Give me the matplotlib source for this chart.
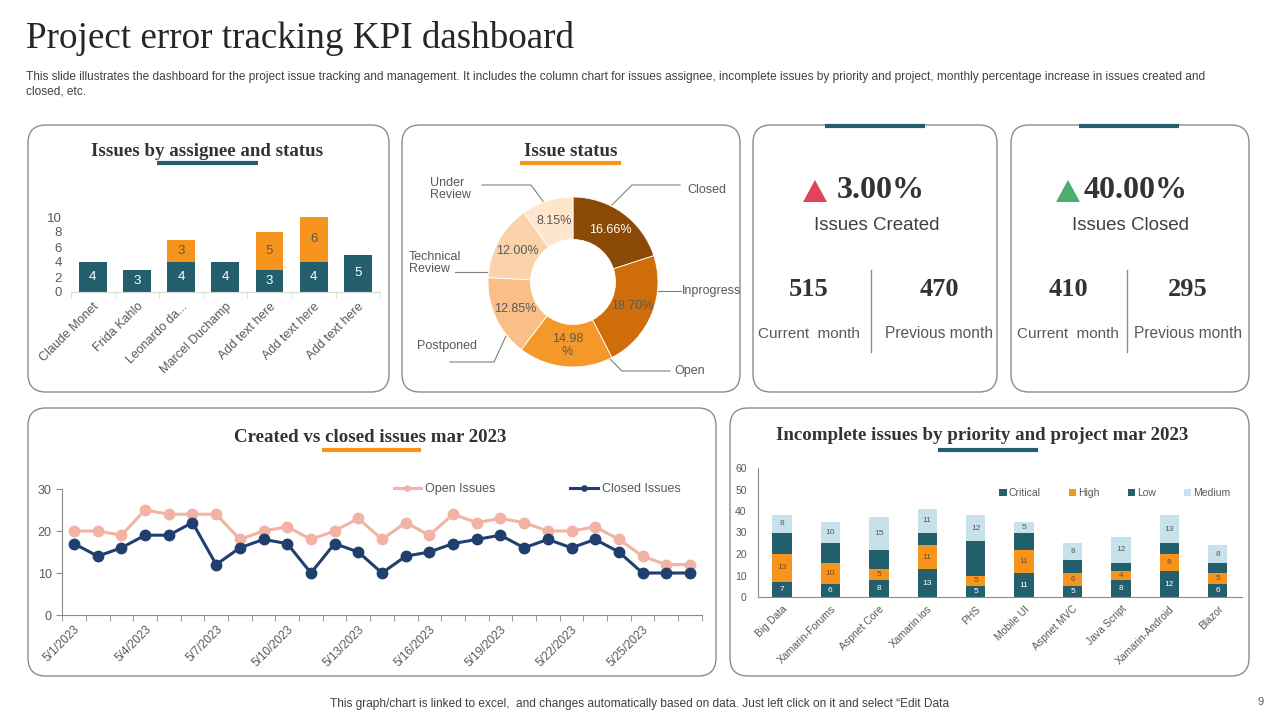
import matplotlib
matplotlib.use("Agg")
import matplotlib.pyplot as plt
from matplotlib.patches import FancyBboxPatch, Polygon
import numpy as np

# ---------------- data ----------------
assignees = ["Claude Monet", "Frida Kahlo", "Leonardo da...", "Marcel Duchamp",
             "Add text here", "Add text here", "Add text here"]
assignee_closed = [4, 3, 4, 4, 3, 4, 5]
assignee_open = [0, 0, 3, 0, 5, 6, 0]

status_labels = ["Closed", "Inprogress", "Open", "Postponed", "Technical\nReview", "Under\nReview"]
status_values = [16.66, 18.70, 14.98, 12.85, 12.00, 8.15]
status_text = ["16.66%", "18.70%", "14.98\n%", "12.85%", "12.00%", "8.15%"]

created_pct = "3.00%"
created_current = 515
created_previous = 470
closed_pct = "40.00%"
closed_current = 410
closed_previous = 295

dates = [f"5/{d}/2023" for d in range(1, 28)]
open_issues = [20, 20, 19, 25, 24, 24, 24, 18, 20, 21, 18, 20, 23, 18, 22, 19, 24, 22, 23, 22,
               20, 20, 21, 18, 14, 12, 12]
closed_issues = [17, 14, 16, 19, 19, 22, 12, 16, 18, 17, 10, 17, 15, 10, 14, 15, 17, 18, 19, 16,
                 18, 16, 18, 15, 10, 10, 10]

projects = ["Big Data", "Xamarin-Forums", "Aspnet Core", "Xamarin.ios", "PHS", "Mobile UI",
            "Aspnet MVC", "Java Script", "Xamarin-Android", "Blazor"]
critical = [7, 6, 8, 13, 5, 11, 5, 8, 12, 6]
high = [13, 10, 5, 11, 5, 11, 6, 4, 8, 5]
low = [10, 9, 9, 6, 16, 8, 6, 4, 5, 5]
medium = [8, 10, 15, 11, 12, 5, 8, 12, 13, 8]

# ---------------- style ----------------
TEAL = "#245f6e"
ORANGE = "#f7941d"
GTXT = "#595959"
DARK = "#333333"
BORDER = "#8c8c8c"
SERIF = "Liberation Serif"
SANS = "Liberation Sans"
DONUT_COLORS = ["#8a4a05", "#d06d0b", "#f5982a", "#f9bf86", "#fbd3aa", "#fde6cc"]
OPEN_C = "#f2b3a4"
CLOSED_C = "#213f6e"
MED_C = "#c8e2eb"

plt.rcParams["font.family"] = [SANS, "DejaVu Sans"]

W, H = 1280, 720
fig = plt.figure(figsize=(12.8, 7.2), dpi=100)
fig.patch.set_facecolor("white")

bg = fig.add_axes([0, 0, 1, 1])
bg.set_xlim(0, W)
bg.set_ylim(H, 0)
bg.axis("off")


def px_axes(x0, y0, x1, y1):
    a = fig.add_axes([x0 / W, 1 - y1 / H, (x1 - x0) / W, (y1 - y0) / H])
    a.set_facecolor("none")
    return a


renderer = fig.canvas.get_renderer()


def fit(t, width):
    ext = t.get_window_extent(renderer=renderer)
    t.set_fontsize(t.get_fontsize() * width / ext.width)


def panel(x0, y0, x1, y1):
    bg.add_patch(FancyBboxPatch((x0, y0), x1 - x0, y1 - y0,
                                boxstyle="round,pad=0,rounding_size=18",
                                fc="white", ec=BORDER, lw=1.0, zorder=1))


def bar(x0, x1, y, color):
    bg.plot([x0, x1], [y, y], color=color, lw=3, solid_capstyle="butt", zorder=3)


# ---------------- header / footer ----------------
t = bg.text(26, 38, "Project error tracking KPI dashboard", fontsize=26, family=SERIF,
            color="#262626", va="center", ha="left")
fit(t, 548)
t = bg.text(26, 77, "This slide illustrates the dashboard for the project issue tracking and management. "
            "It includes the column chart for issues assignee, incomplete issues by priority and project, "
            "monthly percentage increase in issues created and", fontsize=8, color="#404040",
            va="center", ha="left")
fit(t, 1193)
fs_sub = t.get_fontsize()
bg.text(26, 91, "closed, etc.", fontsize=fs_sub, color="#404040", va="center", ha="left")
t = bg.text(640, 704, "This graph/chart is linked to excel,  and changes automatically based on data. "
            "Just left click on it and select \u201cEdit Data", fontsize=8, color="#404040",
            va="center", ha="center")
fit(t, 622)
bg.text(1261, 702, "9", fontsize=8, color="#595959", va="center", ha="center")

# ---------------- panels ----------------
panel(28, 125, 389, 392)
panel(402, 125, 740, 392)
panel(753, 125, 997, 392)
panel(1011, 125, 1249, 392)
panel(28, 408, 716, 676)
panel(730, 408, 1249, 676)

TFS = 13.6
bg.text(207, 152, "Issues by assignee and status", family=SERIF, fontweight="bold",
        fontsize=TFS, color=DARK, ha="center", va="center")
bar(157, 258, 163, TEAL)
bg.text(571, 151, "Issue status", family=SERIF, fontweight="bold",
        fontsize=TFS, color=DARK, ha="center", va="center")
bar(520, 621, 163, ORANGE)
bar(825, 925, 125.5, TEAL)
bar(1079, 1179, 125.5, TEAL)
bg.text(370, 437, "Created vs closed issues mar 2023", family=SERIF, fontweight="bold",
        fontsize=TFS, color=DARK, ha="center", va="center")
bar(322, 421, 450, ORANGE)
bg.text(982, 436, "Incomplete issues by priority and project mar 2023", family=SERIF,
        fontweight="bold", fontsize=TFS, color=DARK, ha="center", va="center")
bar(938, 1038, 450, TEAL)

# ---------------- P1: issues by assignee ----------------
ax1 = px_axes(70.5, 217, 380, 292)
x = np.arange(len(assignees))
ax1.bar(x, assignee_closed, width=0.63, color=TEAL, zorder=2)
ax1.bar(x, assignee_open, width=0.63, bottom=assignee_closed, color=ORANGE, zorder=2)
for i in range(len(x)):
    ax1.text(x[i], assignee_closed[i] / 2, str(assignee_closed[i]), color="white",
             fontsize=9.5, ha="center", va="center")
    if assignee_open[i]:
        ax1.text(x[i], assignee_closed[i] + assignee_open[i] / 2, str(assignee_open[i]),
                 color=GTXT, fontsize=9.5, ha="center", va="center")
ax1.set_xlim(-0.5, len(x) - 0.5)
ax1.set_ylim(0, 10)
ax1.set_yticks(range(0, 11, 2))
ax1.tick_params(axis="y", length=0, labelsize=9.5, labelcolor=GTXT, pad=6)
ax1.set_xticks(x)
ax1.set_xticklabels(assignees, rotation=45, ha="right", rotation_mode="anchor",
                    fontsize=9, color=GTXT)
ax1.tick_params(axis="x", which="major", length=0, pad=6)
ax1.set_xticks(np.arange(-0.5, len(x), 1), minor=True)
ax1.tick_params(axis="x", which="minor", length=4, color="#d9d9d9")
for s in ["top", "right", "left"]:
    ax1.spines[s].set_visible(False)
ax1.spines["bottom"].set_color("#d9d9d9")

# ---------------- P2: donut ----------------
ax2 = px_axes(488, 197, 658, 367)
wedges, _ = ax2.pie(status_values, colors=DONUT_COLORS, startangle=90, counterclock=False,
                    radius=1, wedgeprops=dict(width=0.5, edgecolor="white", linewidth=0.6))
ax2.set_xlim(-1, 1)
ax2.set_ylim(-1, 1)
ax2.set_aspect("equal")
tot = sum(status_values)
cum = 0
for i, v in enumerate(status_values):
    mid = (cum + v / 2) / tot
    cum += v
    ang = np.deg2rad(90 - 360 * mid)
    ax2.text(0.75 * np.cos(ang), 0.75 * np.sin(ang), status_text[i],
             color="white" if i == 0 else GTXT, fontsize=9, ha="center", va="center",
             linespacing=1.1)

leaders = [
    ([(612, 205), (632, 185), (680, 185)], (687, 190), "left"),
    ([(658, 291), (681, 291)], (682, 291), "left"),
    ([(609, 358), (622, 371), (670, 371)], (674, 371), "left"),
    ([(506, 336), (494, 362), (450, 362)], (417, 346), "left"),
    ([(490, 272), (455, 272)], (409, 263), "left"),
    ([(545, 204), (531, 185), (482, 185)], (430, 189), "left"),
]
for (pts, tp, ha), lab in zip(leaders, status_labels):
    xs, ys = zip(*pts)
    bg.plot(xs, ys, color="#7f7f7f", lw=0.8, zorder=3)
    bg.text(tp[0], tp[1], lab, fontsize=9, color=GTXT, ha=ha, va="center", zorder=4,
            linespacing=1.1)


# ---------------- P3 / P4: KPI cards ----------------
def kpi(tri_x, pct_x, center_x, left_x, right_x, div_x, color, pct, label, cur, prev):
    bg.add_patch(Polygon([(tri_x - 12, 202), (tri_x + 12, 202), (tri_x, 180)],
                         closed=True, fc=color, ec="none", zorder=3))
    bg.text(pct_x, 190, pct, family=SERIF, fontweight="bold", fontsize=23, color=DARK,
            ha="left", va="center", zorder=3)
    bg.text(center_x, 225, label, fontsize=13.5, color="#404040", ha="center", va="center",
            zorder=3)
    bg.text(left_x, 290, str(cur), family=SERIF, fontweight="bold", fontsize=19, color=DARK,
            ha="center", va="center", zorder=3)
    bg.text(right_x, 290, str(prev), family=SERIF, fontweight="bold", fontsize=19, color=DARK,
            ha="center", va="center", zorder=3)
    bg.text(left_x, 334, "Current  month", fontsize=11, color=GTXT, ha="center", va="center",
            zorder=3)
    bg.text(right_x, 334, "Previous month", fontsize=11.2, color=GTXT, ha="center", va="center",
            zorder=3)
    bg.plot([div_x, div_x], [270, 352], color="#8c8c8c", lw=1, zorder=3)


kpi(815, 837, 877, 809, 939, 871, "#e0435a", created_pct, "Issues Created",
    created_current, created_previous)
kpi(1068, 1084, 1130, 1068, 1188, 1127, "#4cae6f", closed_pct, "Issues Closed",
    closed_current, closed_previous)

# ---------------- P5: line chart ----------------
ax5 = px_axes(62.2, 489, 701.8, 615)
xi = np.arange(len(dates))
ax5.plot(xi, open_issues, color=OPEN_C, lw=2.2, marker="o", ms=7.5, label="Open Issues",
         clip_on=False, zorder=3)
ax5.plot(xi, closed_issues, color=CLOSED_C, lw=2.2, marker="o", ms=7.5, label="Closed Issues",
         clip_on=False, zorder=4)
ax5.set_xlim(-0.5, len(dates) - 0.5)
ax5.set_ylim(0, 30)
ax5.set_yticks([0, 10, 20, 30])
ax5.tick_params(axis="y", length=4, color="#8c8c8c", labelsize=9, labelcolor=GTXT)
ax5.set_xticks(xi[::3])
ax5.set_xticklabels(dates[::3], rotation=45, ha="right", rotation_mode="anchor",
                    fontsize=8.5, color=GTXT)
ax5.tick_params(axis="x", which="major", length=0, pad=6)
ax5.set_xticks(np.arange(-0.5, len(dates), 1), minor=True)
ax5.tick_params(axis="x", which="minor", length=4, color="#8c8c8c")
for s in ["top", "right"]:
    ax5.spines[s].set_visible(False)
ax5.spines["bottom"].set_color("#8c8c8c")
ax5.spines["left"].set_color("#8c8c8c")
ax5.legend(loc="center", bbox_to_anchor=(537, 489), bbox_transform=bg.transData, ncol=2,
           frameon=False, fontsize=9, labelcolor=GTXT, handlelength=2.2, markerscale=0.5,
           columnspacing=6, handletextpad=0.3)

# ---------------- P6: stacked bars ----------------
ax6 = px_axes(757.8, 468, 1242, 597)
xp = np.arange(len(projects))
bw = 0.4
b1 = np.array(critical)
b2 = b1 + np.array(high)
b3 = b2 + np.array(low)
ax6.bar(xp, critical, width=bw, color=TEAL, label="Critical", zorder=2)
ax6.bar(xp, high, width=bw, bottom=b1, color=ORANGE, label="High", zorder=2)
ax6.bar(xp, low, width=bw, bottom=b2, color=TEAL, label="Low", zorder=2)
ax6.bar(xp, medium, width=bw, bottom=b3, color=MED_C, label="Medium", zorder=2)
for i in range(len(xp)):
    ax6.text(xp[i], critical[i] / 2, str(critical[i]), color="white", fontsize=6,
             ha="center", va="center")
    ax6.text(xp[i], b1[i] + high[i] / 2, str(high[i]), color="#7a4a14", fontsize=6,
             ha="center", va="center")
    ax6.text(xp[i], b3[i] + medium[i] / 2, str(medium[i]), color=GTXT, fontsize=6,
             ha="center", va="center")
ax6.set_xlim(-0.5, len(xp) - 0.5)
ax6.set_ylim(0, 60)
ax6.set_yticks(range(0, 61, 10))
ax6.tick_params(axis="y", length=0, labelsize=7.5, labelcolor=GTXT, pad=8)
ax6.set_xticks(xp)
ax6.set_xticklabels(projects, rotation=45, ha="right", rotation_mode="anchor",
                    fontsize=7.5, color=GTXT)
ax6.tick_params(axis="x", length=0, pad=5)
for s in ["top", "right"]:
    ax6.spines[s].set_visible(False)
ax6.spines["bottom"].set_color("#8c8c8c")
ax6.spines["left"].set_color("#8c8c8c")
ax6.legend(loc="center", bbox_to_anchor=(1115, 493), bbox_transform=bg.transData, ncol=4,
           frameon=False, fontsize=7.5, labelcolor=GTXT, handlelength=0.7, handleheight=0.7,
           handletextpad=0.2, columnspacing=2.7)

fig.savefig("out.png", dpi=100)
